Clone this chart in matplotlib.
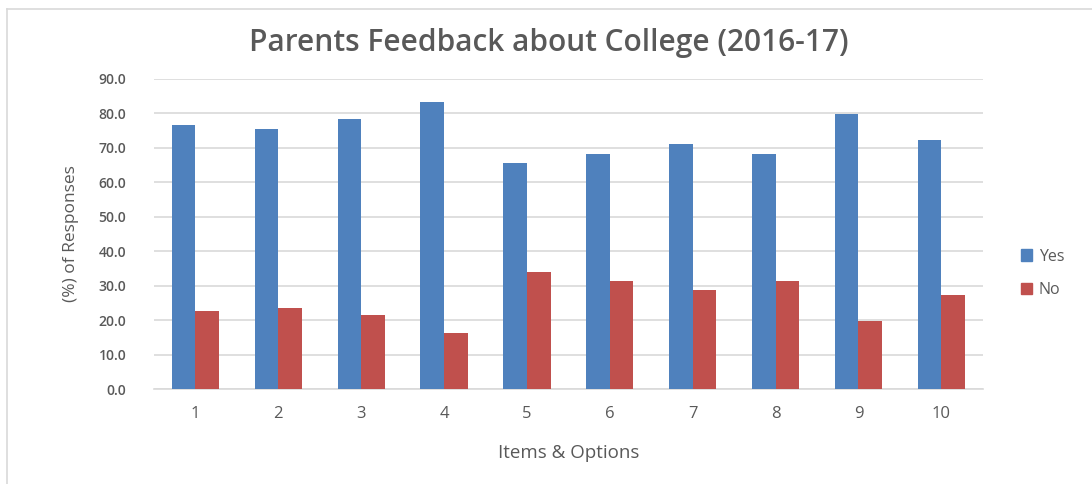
import matplotlib
matplotlib.use("Agg")
import matplotlib.pyplot as plt
import numpy as np
from matplotlib.lines import Line2D

items = ["1", "2", "3", "4", "5", "6", "7", "8", "9", "10"]
yes_vals = [76.7, 75.6, 78.5, 83.4, 65.7, 68.1, 71.0, 68.1, 79.7, 72.4]
no_vals = [22.7, 23.6, 21.6, 16.4, 34.1, 31.5, 28.8, 31.5, 19.8, 27.4]
yticks = [0, 10, 20, 30, 40, 50, 60, 70, 80, 90]

plt.rcParams['font.family'] = ['Open Sans', 'DejaVu Sans']
txt = '#595959'

fig = plt.figure(figsize=(10.92, 4.84), dpi=100)
ax = fig.add_axes([0.141, 0.196, 0.759, 0.641])

x = np.arange(len(items))
w = 0.285
ax.bar(x - w/2, yes_vals, w, color='#4F81BD', label='Yes', zorder=3)
ax.bar(x + w/2, no_vals, w, color='#C0504D', label='No', zorder=3)

ax.set_ylim(0, 90)
ax.set_xlim(-0.5, len(items) - 0.5)
ax.set_yticks(yticks)
ax.set_yticklabels([f"{v:.1f}" for v in yticks], color=txt, fontsize=10, fontweight='semibold')
ax.set_xticks(x)
ax.set_xticklabels(items, color=txt, fontsize=12)
ax.tick_params(axis='both', length=0)
ax.tick_params(axis='x', pad=12)
ax.tick_params(axis='y', pad=20)
ax.grid(axis='y', color='#D9D9D9', linewidth=1.2, zorder=0)
for s in ['top', 'right', 'left']:
    ax.spines[s].set_visible(False)
ax.spines['bottom'].set_color('#D9D9D9')
ax.spines['bottom'].set_linewidth(1.2)

ax.set_xlabel('Items & Options', color=txt, fontsize=13.5, labelpad=16)
ax.set_ylabel('(%) of Responses', color=txt, fontsize=12.5, labelpad=14)
fig.text(0.503, 0.912, 'Parents Feedback about College (2016-17)', ha='center', va='center',
         fontsize=21.5, color=txt, fontweight='semibold')

handles = [plt.Rectangle((0, 0), 1, 1, color='#4F81BD'), plt.Rectangle((0, 0), 1, 1, color='#C0504D')]
leg = fig.legend(handles, ['Yes', 'No'], loc='center left', bbox_to_anchor=(0.922, 0.435),
                 frameon=False, fontsize=11.5, handlelength=0.7, handleheight=0.7,
                 labelspacing=1.1, handletextpad=0.4)
for t in leg.get_texts():
    t.set_color(txt)

# outer chart border (left & top)
fig.add_artist(Line2D([0.006, 0.006], [0.0, 0.981], color='#D9D9D9', lw=1.2, transform=fig.transFigure))
fig.add_artist(Line2D([0.006, 1.0], [0.981, 0.981], color='#D9D9D9', lw=1.2, transform=fig.transFigure))

fig.savefig('out.png', dpi=100)
